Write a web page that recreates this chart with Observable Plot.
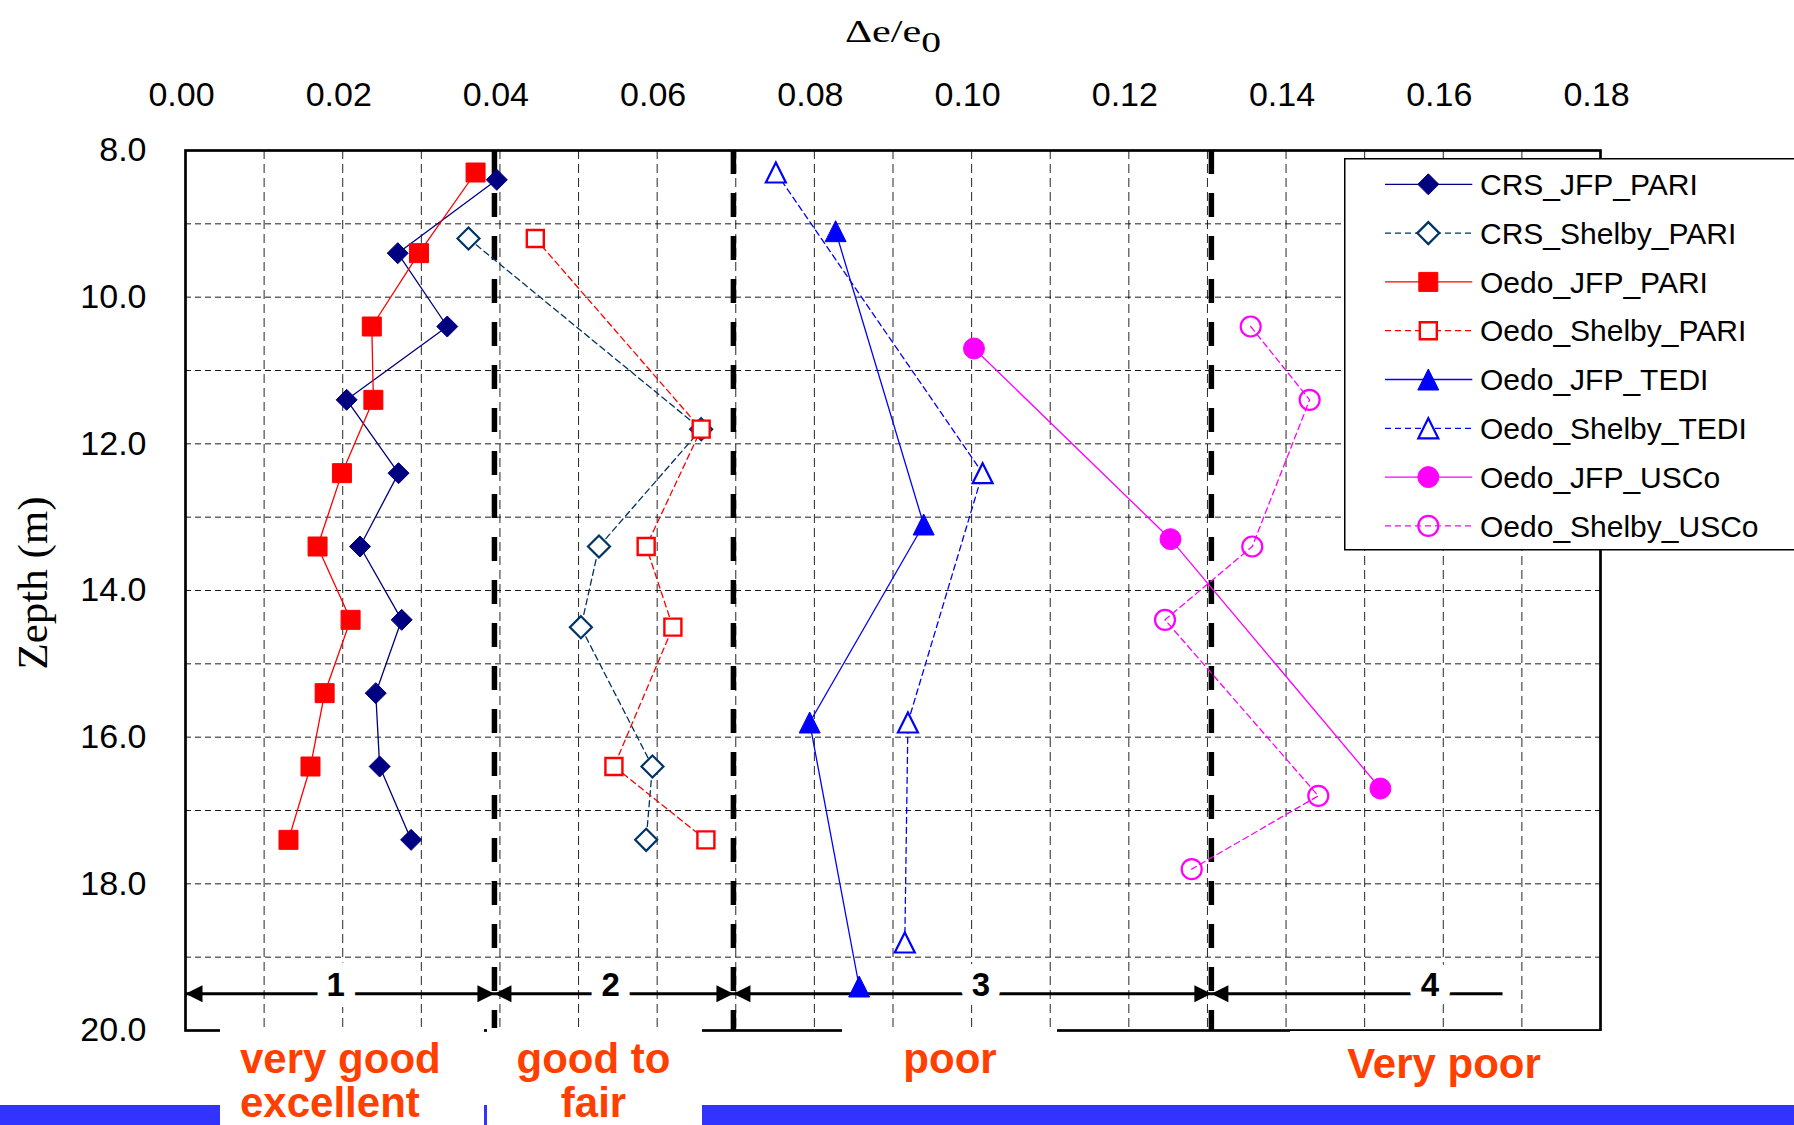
<!DOCTYPE html>
<html><head><meta charset="utf-8">
<script src="https://cdn.jsdelivr.net/npm/d3@7"></script>
<script src="https://cdn.jsdelivr.net/npm/@observablehq/plot@0.6"></script>
<style>
body{margin:0;background:#fff;}
#wrap{position:relative;width:1794px;height:1125px;overflow:hidden;background:#fff;font-family:"Liberation Sans",Arial,sans-serif;}
#wrap > *{position:absolute;left:0;top:0;}
.zlab{color:#FF3F00;font-weight:bold;font-size:42px;line-height:44px;white-space:nowrap;}
.wbox{background:#fff;}
</style></head><body><div id="wrap"></div>
<script>
// ---------- axis / grid values ----------
const xTicks = [0, 0.02, 0.04, 0.06, 0.08, 0.10, 0.12, 0.14, 0.16, 0.18];
const yTicks = [8, 10, 12, 14, 16, 18, 20];
const xGrid = [0.01,0.02,0.03,0.04,0.05,0.06,0.07,0.08,0.09,0.10,0.11,0.12,0.13,0.14,0.15,0.16,0.17];
const yGrid = [9, 10, 11, 12, 13, 14, 15, 16, 17, 18, 19];

// ---------- zone annotations ----------
const zoneBounds = [0.0393, 0.0697, 0.1305];
const zoneStart = [0, 0.0393, 0.0697, 0.1305];
const zoneEnd = [0.0393, 0.0697, 0.1305, 0.1676];
const zoneEndHead = [true, true, true, false];
const zoneLabelX = [0.0191, 0.0541, 0.1012, 0.1583];
const zoneNumbers = ["1", "2", "3", "4"];
const zoneArrowDepth = 19.5;
const zoneNames = [["very good", "excellent"], ["good to", "fair"], ["poor"], ["Very poor"]];

// ---------- series ----------
const seriesNames = ["CRS_JFP_PARI", "CRS_Shelby_PARI", "Oedo_JFP_PARI", "Oedo_Shelby_PARI",
                     "Oedo_JFP_TEDI", "Oedo_Shelby_TEDI", "Oedo_JFP_USCo", "Oedo_Shelby_USCo"];

const depth_CRS_JFP_PARI = [8.4, 9.4, 10.4, 11.4, 12.4, 13.4, 14.4, 15.4, 16.4, 17.4];
const de_CRS_JFP_PARI    = [0.0396, 0.0270, 0.0333, 0.0205, 0.0271, 0.0222, 0.0275, 0.0242, 0.0247, 0.0287];

const depth_CRS_Shelby_PARI = [9.2, 11.8, 13.4, 14.5, 16.4, 17.4];
const de_CRS_Shelby_PARI    = [0.0360, 0.0656, 0.0526, 0.0503, 0.0594, 0.0586];

const depth_Oedo_JFP_PARI = [8.3, 9.4, 10.4, 11.4, 12.4, 13.4, 14.4, 15.4, 16.4, 17.4];
const de_Oedo_JFP_PARI    = [0.0369, 0.0297, 0.0237, 0.0239, 0.0199, 0.0168, 0.0210, 0.0177, 0.0159, 0.0131];

const depth_Oedo_Shelby_PARI = [9.2, 11.8, 13.4, 14.5, 16.4, 17.4];
const de_Oedo_Shelby_PARI    = [0.0445, 0.0656, 0.0586, 0.0620, 0.0545, 0.0662];

const depth_Oedo_JFP_TEDI = [9.1, 13.1, 15.8, 19.4];
const de_Oedo_JFP_TEDI    = [0.0827, 0.0939, 0.0794, 0.0857];

const depth_Oedo_Shelby_TEDI = [8.3, 12.4, 15.8, 18.8];
const de_Oedo_Shelby_TEDI    = [0.0751, 0.1014, 0.0919, 0.0915];

const depth_Oedo_JFP_USCo = [10.7, 13.3, 16.7];
const de_Oedo_JFP_USCo    = [0.1003, 0.1253, 0.1520];

const depth_Oedo_Shelby_USCo = [10.4, 11.4, 13.4, 14.4, 16.8, 17.8];
const de_Oedo_Shelby_USCo    = [0.1355, 0.1430, 0.1357, 0.1246, 0.1441, 0.1280];

const seriesDepths = [depth_CRS_JFP_PARI, depth_CRS_Shelby_PARI, depth_Oedo_JFP_PARI, depth_Oedo_Shelby_PARI,
                      depth_Oedo_JFP_TEDI, depth_Oedo_Shelby_TEDI, depth_Oedo_JFP_USCo, depth_Oedo_Shelby_USCo];
const seriesValues = [de_CRS_JFP_PARI, de_CRS_Shelby_PARI, de_Oedo_JFP_PARI, de_Oedo_Shelby_PARI,
                      de_Oedo_JFP_TEDI, de_Oedo_Shelby_TEDI, de_Oedo_JFP_USCo, de_Oedo_Shelby_USCo];

// ---------- styles ----------
function symDiamond(h){return {draw(c){c.moveTo(0,-h);c.lineTo(h,0);c.lineTo(0,h);c.lineTo(-h,0);c.closePath();}};}
function symSquare(h){return {draw(c){c.moveTo(-h,-h);c.lineTo(h,-h);c.lineTo(h,h);c.lineTo(-h,h);c.closePath();}};}
function symTriangle(h){return {draw(c){c.moveTo(0,-h);c.lineTo(h,h);c.lineTo(-h,h);c.closePath();}};}
function symCircle(h){return {draw(c){c.moveTo(h,0);c.arc(0,0,h,0,2*Math.PI);c.closePath();}};}
const arrowLeft = {draw(c){c.moveTo(0,0);c.lineTo(17,-8.5);c.lineTo(17,8.5);c.closePath();}};
const arrowRight = {draw(c){c.moveTo(0,0);c.lineTo(-17,-8.5);c.lineTo(-17,8.5);c.closePath();}};

const seriesStyles = [
  {color:"#000080", dash:null,  symbol:symDiamond(10.5), fill:"#000080", sw:1},
  {color:"#003366", dash:"6,4", symbol:symDiamond(11),   fill:"#fff",    sw:2.2},
  {color:"#FF0000", dash:null,  symbol:symSquare(9.5),   fill:"#FF0000", sw:1},
  {color:"#FF0000", dash:"6,4", symbol:symSquare(8.5),   fill:"#fff",    sw:2.4},
  {color:"#0000FF", dash:null,  symbol:symTriangle(10.5),fill:"#0000FF", sw:1},
  {color:"#0000FF", dash:"6,4", symbol:symTriangle(10),  fill:"#fff",    sw:2.2},
  {color:"#FF00FF", dash:null,  symbol:symCircle(10.5),  fill:"#FF00FF", sw:1},
  {color:"#FF00FF", dash:"6,4", symbol:symCircle(10),    fill:"none",    sw:2.2}
];

const series = seriesNames.map((name, i) => ({
  name,
  style: seriesStyles[i],
  rows: seriesDepths[i].map((d, j) => ({depth: d, de: seriesValues[i][j]}))
}));

const zoneRows = zoneStart.map((s, i) => ({
  start: s, end: zoneEnd[i], endHead: zoneEndHead[i],
  labelX: zoneLabelX[i], label: zoneNumbers[i], depth: zoneArrowDepth
}));

// ---------- chart ----------
const marks = [
  Plot.ruleX(xGrid, {stroke:"#000", strokeWidth:1, strokeDasharray:"9,5", strokeOpacity:0.85}),
  Plot.ruleY(yGrid, {stroke:"#000", strokeWidth:1, strokeDasharray:"6,4", strokeOpacity:0.9}),
  Plot.ruleX(zoneBounds, {stroke:"#000", strokeWidth:5.5, strokeDasharray:"24,19"}),
  Plot.frame({stroke:"#000", strokeWidth:2.7}),
  Plot.axisX(xTicks, {anchor:"top", tickSize:0, tickPadding:45, tickFormat:d3.format(".2f"), fontSize:34, dx:-4, label:null, fill:"#000"}),
  Plot.axisY(yTicks, {anchor:"left", tickSize:0, tickPadding:39, tickFormat:d3.format(".1f"), fontSize:34, label:null, fill:"#000"}),
  Plot.text(["Zepth (m)"], {text:d=>d, frameAnchor:"left", textAnchor:"middle", dx:-152, dy:-7.5, rotate:-90, fontSize:43, fontFamily:"Liberation Serif, Times New Roman, serif", fill:"#000"}),
  // zone arrows
  Plot.ruleY(zoneRows, {y:"depth", x1:"start", x2:"end", stroke:"#000", strokeWidth:3}),
  Plot.dot(zoneRows, {x:"start", y:"depth", symbol:arrowLeft, r:9, fill:"#000", stroke:"none"}),
  Plot.dot(zoneRows, {filter:"endHead", x:"end", y:"depth", symbol:arrowRight, r:9, fill:"#000", stroke:"none"}),
  Plot.text(zoneRows, {x:"labelX", y:"depth", text:"label", dy:-8, fontSize:33, fontWeight:"bold", fill:"#000", stroke:"#fff", strokeWidth:22})
];
for (const s of series) {
  marks.push(Plot.line(s.rows, {x:"de", y:"depth", stroke:s.style.color, strokeWidth:1.3, strokeDasharray:s.style.dash || undefined}));
  marks.push(Plot.dot(s.rows, {x:"de", y:"depth", symbol:s.style.symbol, r:10, fill:s.style.fill, stroke:s.style.color, strokeWidth:s.style.sw}));
}

const chart = Plot.plot({
  width: 1794, height: 1125,
  marginLeft: 185, marginRight: 194, marginTop: 150, marginBottom: 95,
  x: {domain: [0, 0.18]},
  y: {domain: [8, 20], reverse: true},
  style: {fontFamily: "Liberation Sans, Arial, sans-serif", background: "#fff", color:"#000"},
  marks
});

const wrap = document.getElementById("wrap");
wrap.appendChild(chart);

// title
const title = document.createElement("div");
title.style.cssText = "left:892.5px;top:14.7px;font-family:'Liberation Serif','Times New Roman',serif;font-size:32px;line-height:32px;white-space:nowrap;transform:translateX(-50%) scaleX(1.32);color:#000;";
title.innerHTML = "Δe/e<span style='position:relative;top:10px;font-size:30px'>0</span>";
wrap.appendChild(title);

// blue slide bar
const bar = document.createElement("div");
bar.style.cssText = "left:0;top:1105px;width:1794px;height:20px;background:#3333FF;";
wrap.appendChild(bar);

// white label boxes
const boxes = [[220,1028,264,97],[487,1028,214.5,97],[841.6,1028,215.4,72],[1290,1030.6,340,70]];
boxes.forEach(([l,t,w,h]) => {
  const b = document.createElement("div");
  b.className = "wbox";
  b.style.cssText = `left:${l}px;top:${t}px;width:${w}px;height:${h}px;`;
  wrap.appendChild(b);
});

// zone names
const namePos = [[240,1036.5,"start"],[593.5,1036.5,"center"],[950,1036.5,"center"],[1444,1041.5,"center"]];
zoneNames.forEach((lines, i) => {
  const [x, t, a] = namePos[i];
  const d = document.createElement("div");
  d.className = "zlab";
  d.style.left = x + "px";
  d.style.top = t + "px";
  if (a === "center") { d.style.transform = "translateX(-50%)"; d.style.textAlign = "center"; }
  d.innerHTML = lines.join("<br>");
  wrap.appendChild(d);
});

// legend
const leg = d3.create("svg").attr("width", 450).attr("height", 394)
  .style("left", "1344px").style("top", "158px").style("overflow", "visible");
leg.append("rect").attr("x", 0.75).attr("y", 0.75).attr("width", 600).attr("height", 391)
  .attr("fill", "#fff").attr("stroke", "#000").attr("stroke-width", 1.5);
series.forEach((s, i) => {
  const cy = 26.3 + i * 48.8;
  const g = leg.append("g");
  g.append("line").attr("x1", 41).attr("x2", 128.3).attr("y1", cy).attr("y2", cy)
    .attr("stroke", s.style.color).attr("stroke-width", 1.3)
    .attr("stroke-dasharray", s.style.dash);
  const p = d3.path();
  s.style.symbol.draw(p);
  g.append("path").attr("d", p.toString()).attr("transform", `translate(84.3,${cy})`)
    .attr("fill", s.style.fill).attr("stroke", s.style.color).attr("stroke-width", s.style.sw);
  g.append("text").attr("x", 136).attr("y", cy + 10.6).text(s.name)
    .attr("font-family", "Liberation Sans, Arial, sans-serif").attr("font-size", 30).attr("fill", "#000");
});
wrap.appendChild(leg.node());
</script></body></html>
